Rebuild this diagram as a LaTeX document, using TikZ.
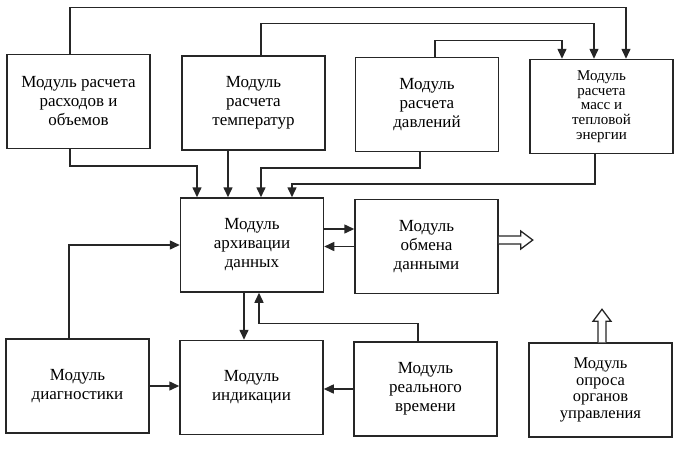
\documentclass[tikz,border=0pt]{standalone}
\usepackage{fontspec}
\setmainfont{Liberation Serif}
\usetikzlibrary{arrows.meta}
\begin{document}
\begin{tikzpicture}[x=1pt,y=-1pt,
  box/.style={draw=black!85, line width=1.5pt, minimum width=143pt, minimum height=94pt,
    align=center, inner sep=2pt, font=\fontsize{17}{19}\selectfont},
  tightA/.style={font=\fontsize{15}{14.8}\selectfont},
  tightB/.style={font=\fontsize{16.5}{16.5}\selectfont},
  arr/.style={draw=black!85, line width=1.5pt, -{Triangle[length=10pt,width=9pt]}},
  hollow/.style={draw=black!85, line width=1.3pt, fill=white, line join=miter}]
\useasboundingbox (0,0) rectangle (686,451);

\node[box] (A) at (78.5,101.5) {Модуль расчета\\расходов и\\объемов};
\node[box] (B) at (253.5,103) {Модуль\\расчета\\температур};
\node[box] (C) at (427,104.5) {Модуль\\расчета\\давлений};
\node[box,tightA] (D) at (601.5,106.5) {Модуль\\расчета\\масс и\\тепловой\\энергии};
\node[box] (E) at (252,245) {Модуль\\архивации\\данных};
\node[box] (F) at (426.5,246.5) {Модуль\\обмена\\данными};
\node[box] (G) at (77.5,386) {Модуль\\диагностики};
\node[box] (H) at (251.5,387.5) {Модуль\\индикации};
\node[box] (I) at (425.5,389) {Модуль\\реального\\времени};
\node[box,tightB] (J) at (600.5,390) {Модуль\\опроса\\органов\\управления};

% top connectors into D
\draw[arr] ([xshift=-8.5pt]A.north) -- ++(0,-46.5) -| ([xshift=24.5pt]D.north);
\draw[arr] ([xshift=7.5pt]B.north) -- ++(0,-32) -| ([xshift=-7.5pt]D.north);
\draw[arr] ([xshift=8pt]C.north) -- ++(0,-16.5) -| ([xshift=-39.5pt]D.north);

% connectors into E from above
\draw[arr] ([xshift=-8.5pt]A.south) -- ++(0,16.5) -| ([xshift=-55pt]E.north);
\draw[arr] ([xshift=-25.5pt]B.south) -- ([xshift=-25.5pt]B.south |- E.north);
\draw[arr] ([xshift=-7pt]C.south) -- ++(0,15.5) -| ([xshift=9pt]E.north);
\draw[arr] ([xshift=-6.5pt]D.south) -- ++(0,29.5) -| ([xshift=40pt]E.north);

% E <-> F
\draw[arr] ([yshift=16pt]E.east) -- ([yshift=16pt]E.east -| F.west);
\draw[arr] (F.west) -- (F.west -| E.east);

% E -> H, I -> E
\draw[arr] ([xshift=-8pt]E.south) -- ([xshift=-8pt]E.south |- H.north);
\draw[arr] ([xshift=-7.5pt]I.north) -- ++(0,-18) -| ([xshift=7pt]E.south);

% G -> E, G -> H, I -> H
\draw[arr] ([xshift=-8.5pt]G.north) |- (E.west);
\draw[arr] (G.east) -- (G.east -| H.west);
\draw[arr] (I.west) -- (I.west -| H.east);

% hollow double arrows
\draw[hollow] ([yshift=10.5pt]F.east) -- ++(22,0) -- ++(0,-5) -- ++(12,9) -- ++(-12,9) -- ++(0,-5) -- ++(-22,0);
\draw[hollow] ([xshift=-2.5pt]J.north) -- ++(0,-21) -- ++(-5,0) -- ++(9,-12) -- ++(9,12) -- ++(-5,0) -- ++(0,21);
\end{tikzpicture}
\end{document}
